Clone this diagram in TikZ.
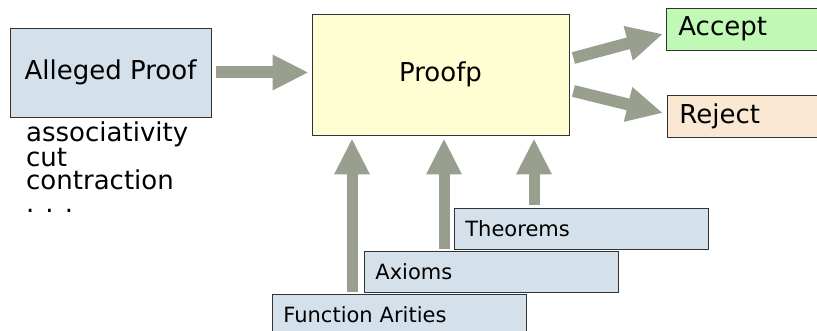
\documentclass[tikz,border=0pt]{standalone}
\usepackage{fontspec}
\setmainfont{DejaVu Sans}
\usetikzlibrary{arrows.meta,positioning}

\definecolor{boxblue}{HTML}{D5E1EA}
\definecolor{boxyellow}{HTML}{FFFDD2}
\definecolor{boxgreen}{HTML}{C0F8B6}
\definecolor{boxtan}{HTML}{FAE8D3}
\definecolor{arrowgray}{HTML}{989F8E}

\tikzset{
  box/.style={draw=black!80, line width=0.8pt, inner sep=0pt},
  bigfont/.style={font=\fontsize{26}{23}\selectfont},
  smallfont/.style={font=\fontsize{21}{24}\selectfont},
  outbox/.style={box, bigfont, anchor=west, minimum height=42pt,
    text width=150pt, align=left, inner xsep=12pt},
  stackbox/.style={box, smallfont, fill=boxblue, anchor=north west,
    minimum height=41pt, text width=232pt, align=left, inner xsep=11pt},
  bigarrow/.style={arrowgray, line width=12pt,
    -{Triangle[length=36pt,width=33pt]}},
}

\begin{document}
\begin{tikzpicture}[x=1pt, y=-1pt]

  \newcommand\Xoff{80pt}

  \useasboundingbox (0,0) rectangle (817,331);
  \clip (0,0) rectangle (817,331);

  %% input and checker
  \node[box, bigfont, fill=boxblue, minimum width=201pt, minimum height=89pt]
  (ap) at (110.5,72.5) {Alleged Proof};
  \node[bigfont, anchor=north west, align=left, inner sep=0pt]
  (rules) at (26,122) {associativity\\cut\\contraction\\. . .};
  \node[box, bigfont, fill=boxyellow, minimum width=257pt, minimum height=121pt]
  (pf) at (440.5,74.5) {Proofp};

  %% verdicts
  \node[outbox, fill=boxgreen] (ac) at (666,29) {Accept};
  \node[outbox, fill=boxtan] (rj) at (667,116) {Reject};

  %% stacked inputs
  \node[stackbox] (th) at (454,208) {Theorems};
  \node[stackbox] (ax) at (364,251) {Axioms};
  \node[stackbox] (fa) at (272,294) {Function Arities};

  \coordinate (th-up) at ([xshift=\Xoff]th.north west);
  \coordinate (ax-up) at ([xshift=\Xoff]ax.north west);
  \coordinate (fa-up) at ([xshift=\Xoff]fa.north west);

  \draw[bigarrow, shorten <=5pt, shorten >=3pt]
  (ap.east) -- (ap.east -| pf.west);
  \draw[bigarrow]
  ([xshift=4pt, yshift=16.5pt]pf.east) -- ([xshift=-3pt, yshift=-5pt]ac.west);
  \draw[bigarrow]
  ([xshift=4pt, yshift=-16.5pt]pf.east) -- ([xshift=-4pt, yshift=3pt]rj.west);

  \draw[bigarrow, line width=11pt, shorten <=3pt, shorten >=3pt]
  (th-up) -- (th-up |- pf.south);
  \draw[bigarrow, line width=11pt, shorten <=2pt, shorten >=3pt]
  (ax-up) -- (ax-up |- pf.south);
  \draw[bigarrow, line width=11pt, shorten <=2pt, shorten >=3pt]
  (fa-up) -- (fa-up |- pf.south);

\end{tikzpicture}
\end{document}
